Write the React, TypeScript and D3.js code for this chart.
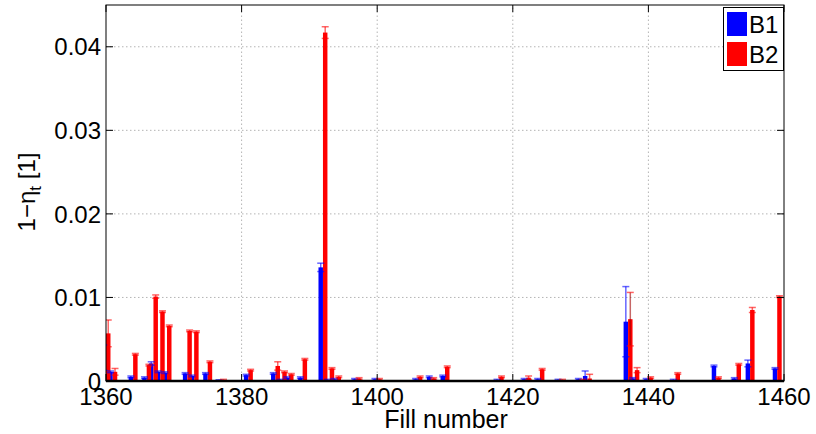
import React, { useEffect, useRef } from "react";
import * as d3 from "d3";

// loss per fill, two beams, with error bars

const fills = [1360, 1361, 1364, 1366, 1367, 1368, 1369, 1372, 1373, 1375, 1377, 1381, 1385, 1386, 1387, 1389, 1392, 1393, 1394, 1397, 1400, 1406, 1408, 1410, 1418, 1422, 1424, 1427, 1430, 1431, 1437, 1438, 1440, 1444, 1450, 1453, 1455, 1459];
const b1 = [0.0028, 0.0011, 0.0005, 0.0004, 0.0021, 0.0011, 0.001, 0.0009, 0.0006, 0.0009, 0.00005, 0.0007, 0.0009, 0.0001, 0.0004, 0.0004, 0.0136, 0.0001, 0.0002, 0.0002, 0.0002, 0.0002, 0.0005, 0.0006, 0.0001, 0.0002, 0.0002, 0.0001, 0.0002, 0.0006, 0.0071, 0.0003, 0.0002, 0.0001, 0.0018, 0.0003, 0.0021, 0.0015];
const b1Err = [0.0015, 0.0001, 0.0001, 0.0001, 0.0002, 0.0001, 0.0001, 0.0001, 0.0001, 0.0001, 0.0001, 0.0001, 0.0001, 0.0001, 0.0001, 0.0001, 0.0005, 0.0001, 0.0001, 0.0001, 0.0001, 0.0001, 0.0001, 0.0001, 0.0001, 0.0001, 0.0001, 0.0001, 0.0001, 0.0006, 0.0042, 0.0001, 0.0001, 0.0001, 0.0001, 0.0001, 0.0004, 0.0001];
const b2 = [0.0057, 0.0011, 0.0032, 0.0019, 0.0101, 0.0083, 0.0066, 0.006, 0.0059, 0.0023, 0.0001, 0.0013, 0.0018, 0.0011, 0.0008, 0.0026, 0.0417, 0.0015, 0.0005, 0.0003, 0.0002, 0.0005, 0.0003, 0.0017, 0.0005, 0.0004, 0.0014, 0.0001, 0.0001, 0.0003, 0.0074, 0.0013, 0.0004, 0.0009, 0.0004, 0.002, 0.0085, 0.0101];
const b2Err = [0.0016, 0.0004, 0.0001, 0.0001, 0.0002, 0.0001, 0.0001, 0.0001, 0.0001, 0.0001, 0.0001, 0.0001, 0.0005, 0.0001, 0.0001, 0.0001, 0.0007, 0.0001, 0.0001, 0.0001, 0.0001, 0.0001, 0.0001, 0.0001, 0.0001, 0.0002, 0.0001, 0.0001, 0.0001, 0.0005, 0.0032, 0.0003, 0.0001, 0.0001, 0.0001, 0.0001, 0.0003, 0.0001];

const xTicks = [1360, 1380, 1400, 1420, 1440, 1460];
const yTicks = [0, 0.01, 0.02, 0.03, 0.04];
const seriesNames = ["B1", "B2"];
const seriesColors = ["#0000ff", "#ff0000"];

const W = 816;
const H = 434;
const FONT = "'Liberation Sans', Arial, Helvetica, sans-serif";

export default function App() {
  const svgRef = useRef<SVGSVGElement | null>(null);

  useEffect(() => {
    const svg = d3.select(svgRef.current);
    svg.selectAll("*").remove();

    const m = { left: 106, right: 32, top: 5, bottom: 53 };
    const x = d3.scaleLinear().domain([1360, 1460]).range([m.left, W - m.right]);
    const y = d3.scaleLinear().domain([0, 0.045]).range([H - m.bottom, m.top]);
    const bw = x(1360.66) - x(1360);

    svg.append("defs").append("clipPath").attr("id", "plot-clip")
      .append("rect")
      .attr("x", m.left).attr("y", m.top)
      .attr("width", W - m.left - m.right).attr("height", H - m.top - m.bottom);

    // grid
    const grid = svg.append("g").attr("stroke", "#b4b4b4").attr("stroke-dasharray", "1.5,2.5").attr("stroke-width", 1);
    xTicks.slice(1, -1).forEach((t) => {
      grid.append("line").attr("x1", x(t)).attr("x2", x(t)).attr("y1", y(0)).attr("y2", m.top);
    });
    yTicks.slice(1).forEach((t) => {
      grid.append("line").attr("x1", m.left).attr("x2", W - m.right).attr("y1", y(t)).attr("y2", y(t));
    });

    const plot = svg.append("g").attr("clip-path", "url(#plot-clip)");
    const series = [b1, b2];
    const errs = [b1Err, b2Err];

    series.forEach((vals, s) => {
      plot.append("g").selectAll("rect").data(vals).join("rect")
        .attr("x", (d, i) => (s === 0 ? x(fills[i]) - bw : x(fills[i])))
        .attr("y", (d) => y(d))
        .attr("width", bw)
        .attr("height", (d) => y(0) - y(d))
        .attr("fill", seriesColors[s]);
    });

    series.forEach((vals, s) => {
      const g = plot.append("g").attr("stroke", seriesColors[s]).attr("stroke-opacity", 0.6).attr("stroke-width", 1.5);
      vals.forEach((v, i) => {
        const cx = x(fills[i]) + (s === 0 ? -bw / 2 : bw / 2);
        const e = errs[s][i];
        const top = y(v + e);
        const bot = y(Math.max(0, v - e));
        g.append("line").attr("x1", cx).attr("x2", cx).attr("y1", top).attr("y2", bot)
          .attr("stroke", s === 1 && e > 0.002 ? "#a00000" : null);
        g.append("line").attr("x1", cx - 3.5).attr("x2", cx + 3.5).attr("y1", top).attr("y2", top);
        g.append("line").attr("x1", cx - 3.5).attr("x2", cx + 3.5).attr("y1", bot).attr("y2", bot);
      });
    });

    // axes box and inside ticks
    const ax = svg.append("g").attr("stroke", "#000").attr("stroke-width", 1).attr("fill", "none");
    ax.append("rect").attr("x", m.left).attr("y", m.top).attr("width", W - m.left - m.right).attr("height", H - m.top - m.bottom);
    ax.append("line").attr("x1", m.left).attr("x2", W - m.right).attr("y1", y(0)).attr("y2", y(0)).attr("stroke-width", 2.5);
    xTicks.forEach((t) => {
      ax.append("line").attr("x1", x(t)).attr("x2", x(t)).attr("y1", y(0)).attr("y2", y(0) - 7);
      ax.append("line").attr("x1", x(t)).attr("x2", x(t)).attr("y1", m.top).attr("y2", m.top + 7);
    });
    yTicks.forEach((t) => {
      ax.append("line").attr("x1", m.left).attr("x2", m.left + 7).attr("y1", y(t)).attr("y2", y(t));
      ax.append("line").attr("x1", W - m.right).attr("x2", W - m.right - 7).attr("y1", y(t)).attr("y2", y(t));
    });

    const txt = svg.append("g").attr("font-family", FONT).attr("font-size", 24).attr("fill", "#000");
    xTicks.forEach((t) => {
      txt.append("text").attr("x", x(t)).attr("y", y(0) + 24).attr("text-anchor", "middle").text(String(t));
    });
    yTicks.forEach((t) => {
      txt.append("text").attr("x", m.left - 5).attr("y", y(t)).attr("dy", "0.36em").attr("text-anchor", "end")
        .text(t === 0 ? "0" : d3.format(".2f")(t));
    });
    txt.append("text").attr("x", 446).attr("y", 428).attr("text-anchor", "middle").attr("font-size", 25).text("Fill number");

    const yl = txt.append("text").attr("transform", "translate(35,192) rotate(-90)").attr("text-anchor", "middle");
    yl.append("tspan").text("1\u2212\u03b7");
    yl.append("tspan").attr("font-size", 17).attr("dy", 6).text("t");
    yl.append("tspan").attr("dy", -6).text(" [1]");

    // legend
    const lg = svg.append("g").attr("font-family", FONT).attr("font-size", 24);
    lg.append("rect").attr("x", 723.5).attr("y", 7.5).attr("width", 60).attr("height", 63)
      .attr("fill", "#fff").attr("stroke", "#000").attr("stroke-width", 1);
    seriesNames.forEach((n, i) => {
      lg.append("rect").attr("x", 727).attr("y", 12 + i * 30).attr("width", 20).attr("height", 24).attr("fill", seriesColors[i]);
      lg.append("text").attr("x", 749).attr("y", 33 + i * 30).text(n);
    });
  }, []);

  return (
    <svg ref={svgRef} width={W} height={H}
      style={{ position: "absolute", left: 0, top: 0, background: "#fff" }} />
  );
}
